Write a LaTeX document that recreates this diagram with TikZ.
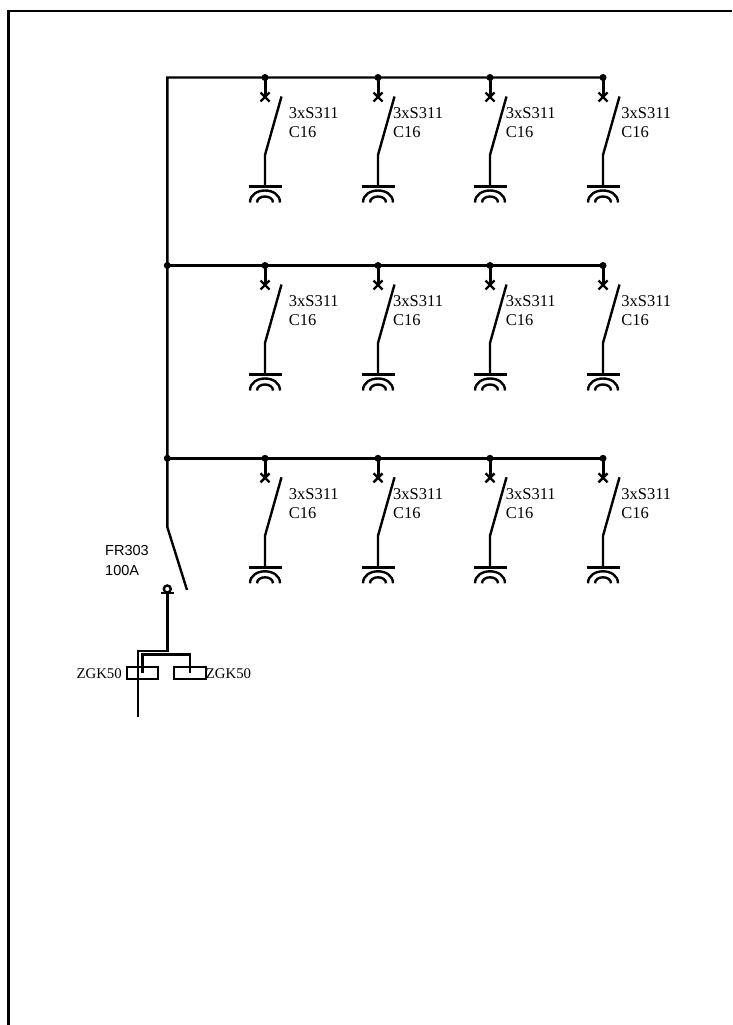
\documentclass[tikz,border=0pt]{standalone}
\usepackage{fontspec}
\setmainfont{Liberation Serif}
\newfontfamily\labelsans{Liberation Sans}
\usepackage{tikz}

\tikzset{
  wire/.style={line width=2.4pt},
  stem/.style={line width=3pt},
  junction/.style={circle, fill=black, inner sep=0pt, minimum size=7pt},
  swlabel/.style={anchor=west, inner sep=0pt, font=\fontsize{16.5}{16}\selectfont},
  boxlabel/.style={inner sep=0pt, font=\fontsize{14.8}{15}\selectfont},
  fuselabel/.style={anchor=west, inner sep=0pt, font=\labelsans\fontsize{14.5}{15}\selectfont}
}

\begin{document}
\begin{tikzpicture}[x=1pt, y=-1pt]
    \useasboundingbox (0, 0) rectangle (732, 1025);

    % frame
    \coordinate (framebottom) at (8.5, 1025);
    \coordinate (framecorner) at (8.5, 11);
    \coordinate (frameright) at (732, 11);
    \draw[wire] (framebottom) -- (framecorner) -- (frameright);

    % busbars
    \coordinate (bus1) at (167.3, 77.5);
    \coordinate (bus1end) at (603, 77.5);
    \node[junction] (bus2) at (167.3, 265.5) {};
    \coordinate (bus2end) at (603, 265.5);
    \node[junction] (bus3) at (167.3, 458.3) {};
    \coordinate (bus3end) at (603, 458.3);
    \coordinate (hinge) at (167.3, 527);
    \coordinate (bladeend) at (187, 590);
    \draw[wire] (bus1end) -- (bus1) -- (bus2.center) -- (bus3.center) -- (hinge) -- (bladeend);
    \draw[wire] (bus2.center) -- (bus2end);
    \draw[wire] (bus3.center) -- (bus3end);

    % twelve outlets
    \foreach \row/\ybus in {1/77.5, 2/265.5, 3/458.3} {
      \foreach \col/\xbus/\xtext in {1/265/288.7, 2/378/393, 3/490/505.7, 4/603/621.2} {
        \begin{scope}[shift={(\xbus, \ybus)}]
          \node[junction] (tap\row\col) at (0, 0) {};
          \coordinate (fix\row\col) at (0, 19.5);
          \coordinate (crossa\row\col) at (-4.5, 15);
          \coordinate (crossb\row\col) at (4.5, 24);
          \coordinate (crossc\row\col) at (4.5, 15);
          \coordinate (crossd\row\col) at (-4.5, 24);
          \coordinate (bladetop\row\col) at (16.5, 19);
          \coordinate (knee\row\col) at (0, 77.5);
          \coordinate (bar\row\col) at (0, 109);
          \coordinate (barl\row\col) at (-16.5, 109);
          \coordinate (barr\row\col) at (16.5, 109);
          \coordinate (outl\row\col) at (-15, 125);
          \coordinate (outr\row\col) at (15, 125);
          \coordinate (inl\row\col) at (-8, 125);
          \coordinate (inr\row\col) at (8, 125);
          \draw[stem] (tap\row\col.center) -- (fix\row\col);
          \draw[wire] (crossa\row\col) -- (crossb\row\col);
          \draw[wire] (crossc\row\col) -- (crossd\row\col);
          \draw[wire] (bladetop\row\col) -- (knee\row\col) -- (bar\row\col);
          \draw[wire] (barl\row\col) -- (barr\row\col);
          \draw[wire] (outl\row\col) .. controls (-15, 109) and (15, 109) .. (outr\row\col);
          \draw[wire] (inl\row\col) .. controls (-8, 117) and (8, 117) .. (inr\row\col);
        \end{scope}
        \node[swlabel] (type\row\col) at (\xtext, \ybus + 36) {3xS311};
        \node[swlabel] (curve\row\col) at (\xtext, \ybus + 55) {C16};
      }
    }

    % fuse switch
    \node[fuselabel] (fusetype) at (105, 551) {FR303};
    \node[fuselabel] (fuseamps) at (105, 571) {100A};
    \node[circle, draw, line width=2.4pt, inner sep=0pt, minimum size=7pt] (contact) at (167.3, 589) {};
    \coordinate (contactbar) at (167.3, 593);
    \coordinate (contactl) at (161, 593);
    \coordinate (contactr) at (174, 593);
    \draw[wire] (contactl) -- (contactr);

    % terminals
    \node[draw, line width=2.4pt, inner sep=0pt, minimum width=31.5pt, minimum height=12pt] (zgka) at (142.5, 672.7) {};
    \node[draw, line width=2.4pt, inner sep=0pt, minimum width=31.5pt, minimum height=12pt] (zgkb) at (190, 672.7) {};
    \node[boxlabel, anchor=east] (zgkalabel) at (122, 674) {ZGK50};
    \node[boxlabel, anchor=west] (zgkblabel) at (205.7, 674) {ZGK50};
    \coordinate (feedcorner) at (167.3, 650.7);
    \coordinate (feedleft) at (137.7, 650.7);
    \coordinate (feedout) at (137.7, 717);
    \coordinate (linkleft) at (142.5, 654.5);
    \coordinate (linkright) at (190, 654.5);
    \draw[wire] (contactbar) -- (feedcorner) -- (feedleft) -- (feedout);
    \draw[wire] (zgka.center) -- (linkleft) -- (linkright) -- (zgkb.center);
\end{tikzpicture}
\end{document}
